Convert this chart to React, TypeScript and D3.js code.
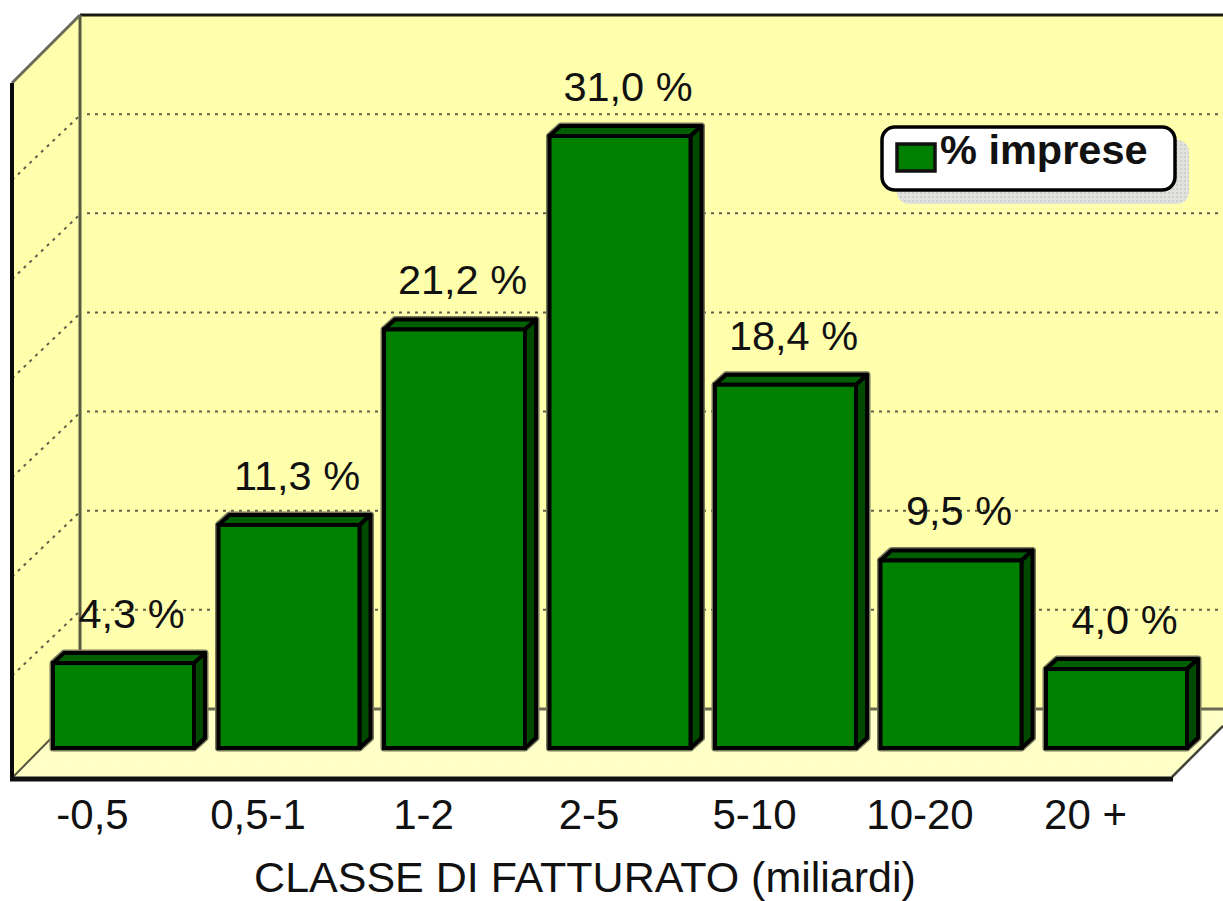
import React from "react";
import * as d3 from "d3";

const categories = ["-0,5", "0,5-1", "1-2", "2-5", "5-10", "10-20", "20 +"];
const values = [4.3, 11.3, 21.2, 31.0, 18.4, 9.5, 4.0];
const valueLabels = ["4,3 %", "11,3 %", "21,2 %", "31,0 %", "18,4 %", "9,5 %", "4,0 %"];
const gridTicks = [5, 10, 15, 20, 25, 30];
const seriesName = "% imprese";
const axisTitle = "CLASSE DI FATTURATO (miliardi)";

const FONT = "'Liberation Sans', Arial, sans-serif";
const depthX = 11;
const depthY = 10;
const wallDx = 68;

export default function App() {
  const x = d3.scaleBand<string>().domain(categories).range([53, 1187]).paddingInner(0.148).paddingOuter(0);
  const y = d3.scaleLinear().domain([0, 31]).range([748, 136]);
  const grid = d3.scaleLinear().domain([0, 35]).range([709, 15]);
  const bw = x.bandwidth();
  const line = d3.line();
  const poly = (p: [number, number][]) => line(p) + "Z";

  return (
    <svg width={1223} height={901} viewBox="0 0 1223 901"
      style={{ position: "absolute", left: 0, top: 0, display: "block", background: "#fff" }}>
      <defs>
        <pattern id="wall" width="4" height="4" patternUnits="userSpaceOnUse">
          <rect width="4" height="4" fill="#FFFFB2" />
          <rect x="0" y="0" width="2" height="2" fill="#FFFFA0" />
        </pattern>
        <pattern id="floor" width="6" height="6" patternUnits="userSpaceOnUse">
          <rect width="6" height="6" fill="#FFFFCA" />
          <rect x="1" y="1" width="2" height="2" fill="#FFFFB8" />
        </pattern>
        <pattern id="shadow" width="4" height="4" patternUnits="userSpaceOnUse">
          <rect width="4" height="4" fill="#E2E2DC" />
          <rect x="0" y="0" width="2" height="2" fill="#CFCFCF" />
        </pattern>
      </defs>

      {/* walls and floor */}
      <path d={poly([[80, grid(35)], [1223, grid(35)], [1223, grid(0)], [80, grid(0)]])} fill="url(#wall)" />
      <path d={poly([[12, grid(35) + wallDx], [80, grid(35)], [80, grid(0)], [12, grid(0) + wallDx]])} fill="url(#wall)" />
      <path d={poly([[12, grid(0) + wallDx], [80, grid(0)], [1223, grid(0)], [1223, 726], [1172, 778]])} fill="url(#floor)" />

      {/* gridlines */}
      {gridTicks.map((t) => (
        <g key={t} stroke="#5f5f48" strokeWidth={2} strokeDasharray="3 5" fill="none">
          <line x1={87} x2={1223} y1={grid(t)} y2={grid(t)} />
          <line x1={78} x2={13} y1={grid(t) + 3} y2={grid(t) + 65} />
        </g>
      ))}

      {/* frame */}
      <line x1={80} x2={1223} y1={grid(35)} y2={grid(35)} stroke="#1a1a14" strokeWidth={3} />
      <line x1={80} x2={80} y1={grid(35)} y2={grid(0)} stroke="#5a5a40" strokeWidth={3} />
      <line x1={12} x2={80} y1={grid(35) + wallDx} y2={grid(35)} stroke="#6a6a58" strokeWidth={3} />
      <line x1={80} x2={1223} y1={grid(0)} y2={grid(0)} stroke="#6a6a50" strokeWidth={3} />
      <line x1={12} x2={80} y1={778} y2={grid(0)} stroke="#55553c" strokeWidth={2} />
      <line x1={1172} x2={1223} y1={777} y2={726} stroke="#44443a" strokeWidth={2.5} />
      <line x1={12} x2={12} y1={grid(35) + wallDx} y2={781} stroke="#0a0a0a" strokeWidth={4} />
      <line x1={10} x2={1173} y1={779} y2={779} stroke="#111" strokeWidth={5} />

      {/* bars */}
      {categories.map((c, i) => {
        const x0 = x(c) as number;
        const x1 = x0 + bw;
        const y0 = y(values[i]);
        const yb = y(0);
        const top: [number, number][] = [[x0, y0], [x0 + depthX, y0 - depthY], [x1 + depthX, y0 - depthY], [x1, y0]];
        const side: [number, number][] = [[x1, y0], [x1 + depthX, y0 - depthY], [x1 + depthX, yb - depthY], [x1, yb]];
        const outline: [number, number][] = [[x0, y0], [x0 + depthX, y0 - depthY], [x1 + depthX, y0 - depthY], [x1 + depthX, yb - depthY], [x1, yb], [x0, yb]];
        return (
          <g key={c}>
            <path d={poly(outline)} fill="none" stroke="#77775c" strokeWidth={7} strokeLinejoin="round" />
            <path d={poly(top)} fill="#005F00" stroke="#000" strokeWidth={4} strokeLinejoin="round" />
            <path d={poly(side)} fill="#004A00" stroke="#000" strokeWidth={4} strokeLinejoin="round" />
            <rect x={x0} y={y0} width={bw} height={yb - y0} fill="#008000" stroke="#000" strokeWidth={4} />
            <text x={x0 + bw / 2 + 8} y={y0 - 35} textAnchor="middle" fontFamily={FONT} fontSize={41.5} fill="#111">
              {valueLabels[i]}
            </text>
            <text x={x0 + bw / 2 - 31} y={829} textAnchor="middle" fontFamily={FONT} fontSize={42} fill="#111">
              {c}
            </text>
          </g>
        );
      })}

      {/* legend */}
      <rect x={897} y={140} width={292} height={64} rx={12} fill="url(#shadow)" />
      <rect x={882} y={127} width={293} height={63} rx={13} fill="#fff" stroke="#000" strokeWidth={3.5} />
      <rect x={897} y={144} width={38} height={27} fill="#008000" stroke="#111" strokeWidth={3.5} />
      <text x={940} y={164} fontFamily={FONT} fontSize={41.5} fontWeight={700} fill="#111">{seriesName}</text>

      <text x={585} y={891.5} textAnchor="middle" fontFamily={FONT} fontSize={43} fill="#111">{axisTitle}</text>
    </svg>
  );
}
